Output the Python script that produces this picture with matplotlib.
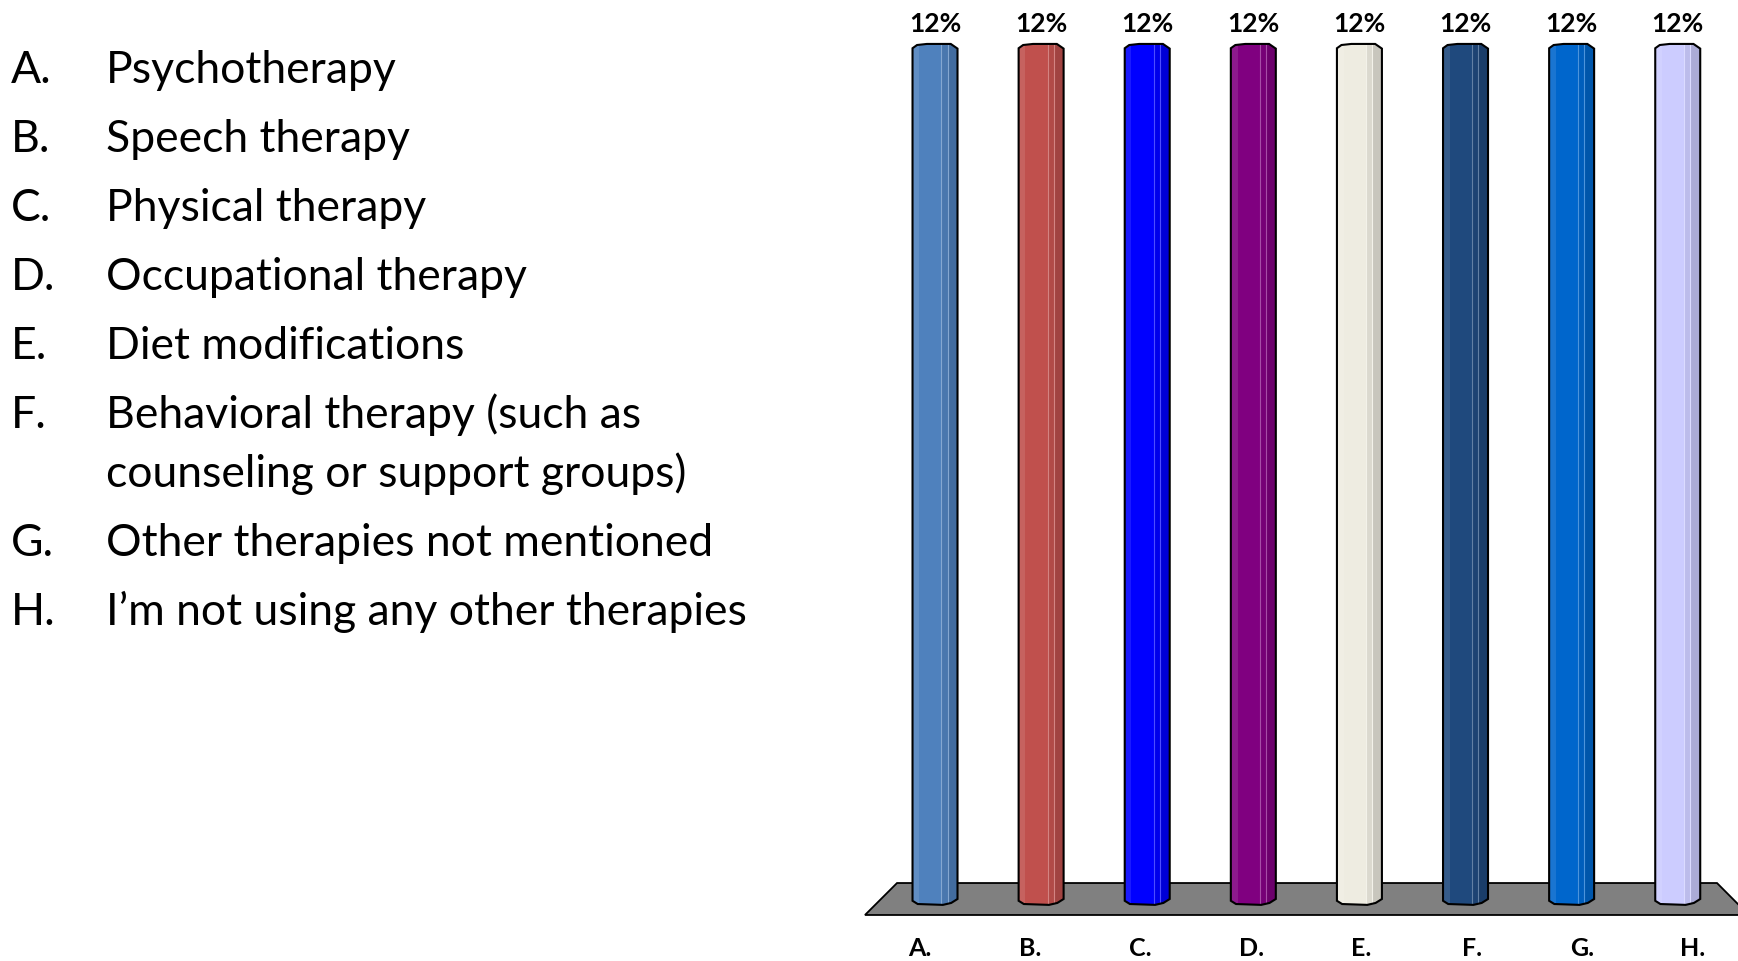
import matplotlib
matplotlib.use("Agg")
import matplotlib.pyplot as plt
from matplotlib.patches import Polygon, Rectangle
import matplotlib.colors as mcolors
import numpy as np

# ---- data ----
letters = ["A.", "B.", "C.", "D.", "E.", "F.", "G.", "H."]
options = [
    "Psychotherapy",
    "Speech therapy",
    "Physical therapy",
    "Occupational therapy",
    "Diet modifications",
    "Behavioral therapy (such as\ncounseling or support groups)",
    "Other therapies not mentioned",
    "I\u2019m not using any other therapies",
]
percentages = [12, 12, 12, 12, 12, 12, 12, 12]
bar_colors = ["#4F81BD", "#C0504D", "#0000FF", "#800080",
              "#EEECE1", "#1F497D", "#0066CC", "#CCCCFF"]

W, H, DPI = 1738, 962, 100
FONT = "Lato"

fig = plt.figure(figsize=(W / DPI, H / DPI), dpi=DPI)
fig.patch.set_facecolor("white")


def fx(px):
    return px / W


def fy(py):
    return 1 - py / H


# ---- answer list on the left ----
y = 83
for i, (let, opt) in enumerate(zip(letters, options)):
    fig.text(fx(11), fy(y), let, fontsize=32, family=FONT, va="baseline", ha="left")
    lines = opt.split("\n")
    for j, line in enumerate(lines):
        fig.text(fx(106), fy(y + 59 * j), line, fontsize=32, family=FONT,
                 va="baseline", ha="left")
    y += 69 + 59 * (len(lines) - 1)

# ---- chart ----
ax = fig.add_axes([fx(860), 0, fx(W - 860), 1])
ax.set_xlim(-0.707, 7.568)
ax.set_ylim(-0.795, 12.627)
ax.axis("off")

n = len(percentages)
xs = np.arange(n)

# floor slab
floor = Polygon([(-0.660, -0.153), (-0.358, 0.293), (n - 1 + 0.37, 0.293),
                 (n - 1 + 0.67, -0.153)], closed=True, facecolor="#808080",
                edgecolor="black", linewidth=1.3, zorder=1, clip_on=False)
ax.add_patch(floor)

w = 0.212


def shade(c, f):
    r, g, b = mcolors.to_rgb(c)
    if f >= 0:
        return (r + (1 - r) * f, g + (1 - g) * f, b + (1 - b) * f)
    return (r * (1 + f), g * (1 + f), b * (1 + f))


for xc, v, col in zip(xs, percentages, bar_colors):
    outline = [
        (xc - w, 0.045), (xc - 0.77 * w, 0.0), (xc + 0.35 * w, -0.012),
        (xc + 0.72 * w, 0.015), (xc + w, 0.07),
        (xc + w, v - 0.065), (xc + 0.7 * w, v), (xc - 0.36 * w, v),
        (xc - 0.8 * w, v - 0.015), (xc - w, v - 0.06),
    ]
    body = Polygon(outline, closed=True, facecolor=col, edgecolor="none", zorder=2)
    ax.add_patch(body)
    # cylinder facets: lighter left, darker right
    facets = [
        (-1.0, -0.7, 0.10),
        (-0.7, 0.288, 0.0),
        (0.288, 0.556, -0.08),
        (0.556, 1.0, -0.16),
    ]
    for a, b, f in facets:
        r = Rectangle((xc + a * w, -0.1), (b - a) * w, v + 0.2,
                      facecolor=shade(col, f), edgecolor="none", zorder=3)
        r.set_clip_path(body)
        ax.add_patch(r)
    for a in (0.288, 0.556):
        ln, = ax.plot([xc + a * w, xc + a * w], [0.0, v], color=shade(col, 0.3),
                      linewidth=0.8, zorder=4)
        ln.set_clip_path(body)
    ax.add_patch(Polygon(outline, closed=True, facecolor="none",
                         edgecolor="black", linewidth=1.5, zorder=5))
    ax.text(xc, v + 0.18, f"{v}%", ha="center", va="baseline", fontsize=19,
            fontweight="bold", family=FONT, zorder=6)

# category letters under the floor (spread slightly by perspective)
mid = (n - 1) / 2
for i, let in enumerate(letters):
    ax.text(mid + (i - mid) * 1.0405, -0.77, let, ha="center", va="bottom",
            fontsize=18, fontweight="bold", family=FONT, clip_on=False)

fig.savefig("out.png", dpi=DPI, facecolor="white")
